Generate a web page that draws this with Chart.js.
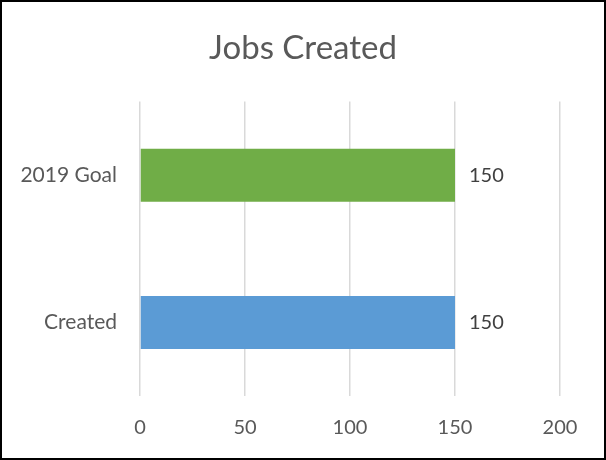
<!DOCTYPE html>
<html>
<head>
<meta charset="utf-8">
<script src="https://cdn.jsdelivr.net/npm/chart.js@4/dist/chart.umd.min.js"></script>
<style>
  html, body { margin: 0; padding: 0; background: #fff; }
  #wrap { position: relative; width: 606px; height: 460px; }
  #frame {
    position: absolute; left: 0; top: 0; width: 606px; height: 460px;
    box-sizing: border-box; border: 2px solid #000; pointer-events: none;
  }
</style>
</head>
<body>
<div id="wrap">
  <canvas id="chart" width="606" height="460"></canvas>
  <div id="frame"></div>
</div>
<script>
let categories = ["2019 Goal", "Created"];
let values = [150, 150];
let barColors = ["#70AD47", "#5B9BD5"];
let xTicks = [0, 50, 100, 150, 200];

const FONT = "Lato, 'Open Sans', sans-serif";

// draw the value next to each bar
const valueLabels = {
  id: "valueLabels",
  afterDatasetsDraw(chart) {
    let ctx = chart.ctx;
    let meta = chart.getDatasetMeta(0);
    ctx.save();
    ctx.font = "20px " + FONT;
    ctx.fillStyle = "#404040";
    ctx.textAlign = "left";
    ctx.textBaseline = "middle";
    meta.data.forEach((bar, i) => {
      ctx.fillText(String(values[i]), bar.x + 14, bar.y);
    });
    ctx.restore();
  }
};

new Chart(document.getElementById("chart"), {
  type: "bar",
  data: {
    labels: categories,
    datasets: [{
      data: values,
      backgroundColor: barColors,
      barPercentage: 0.36,
      categoryPercentage: 1
    }]
  },
  options: {
    indexAxis: "y",
    responsive: false,
    animation: false,
    layout: { padding: 0 },
    plugins: {
      legend: { display: false },
      tooltip: { enabled: false },
      title: {
        display: true,
        text: "Jobs Created",
        color: "#595959",
        font: { family: FONT, size: 33, weight: "normal" },
        padding: { top: 29, bottom: 33 }
      }
    },
    scales: {
      x: {
        min: 0,
        max: 200,
        afterBuildTicks(scale) {
          scale.ticks = xTicks.map(v => ({ value: v }));
        },
        afterFit(scale) { scale.height = 64; },
        grid: { color: "#d9d9d9", lineWidth: 1.5, drawTicks: false },
        border: { display: false },
        ticks: {
          color: "#595959",
          padding: 20,
          font: { family: FONT, size: 20 }
        }
      },
      y: {
        afterFit(scale) { scale.width = 140; },
        grid: { display: false, drawTicks: false },
        border: { display: false },
        ticks: {
          color: "#595959",
          padding: 23,
          font: { family: FONT, size: 21 }
        }
      },
      // empty right-hand axis, only keeps the space on the right
      yRight: {
        position: "right",
        afterFit(scale) { scale.width = 46; },
        grid: { display: false, drawTicks: false },
        border: { display: false },
        ticks: { display: false }
      }
    }
  },
  plugins: [valueLabels]
});
</script>
</body>
</html>
